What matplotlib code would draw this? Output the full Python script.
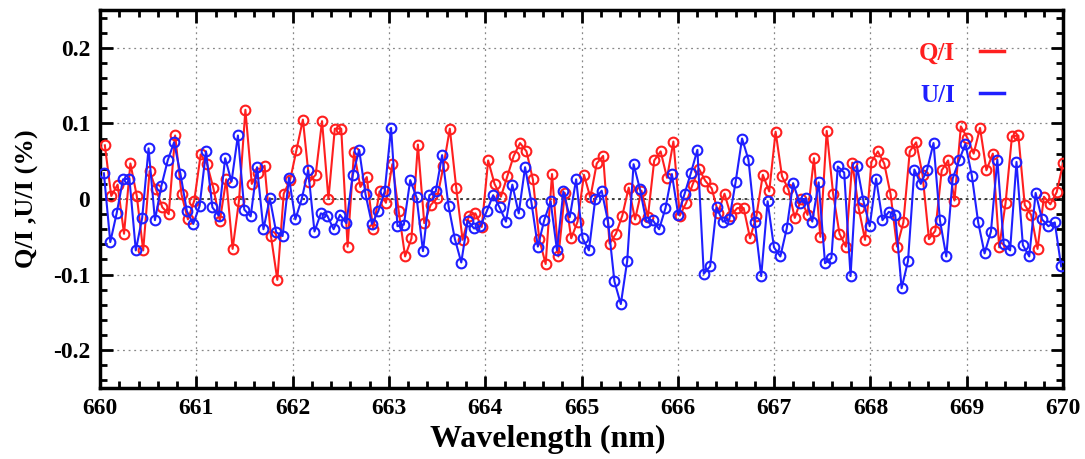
import matplotlib; matplotlib.use("Agg"); import matplotlib.pyplot as plt
import numpy as np
from matplotlib.lines import Line2D
from matplotlib.ticker import MultipleLocator

# ═══════ Data ═══════
wl_q = np.linspace(660.05, 670.0, 151)
wl_u = np.linspace(660.04, 669.98, 151)

q_over_i = [
    0.071, 0.004, 0.019, -0.046, 0.047, 0.004, -0.068, 0.037, 0.013, -0.011,
    -0.020, 0.084, 0.006, -0.027, -0.002, 0.059, 0.046, 0.014, -0.029, 0.026,
    -0.066, -0.002, 0.118, 0.020, 0.035, 0.044, -0.049, -0.107, 0.007, 0.025,
    0.065, 0.105, 0.023, 0.032, 0.103, 0.000, 0.093, 0.093, -0.063, 0.062,
    0.016, 0.029, -0.040, 0.010, -0.005, 0.046, -0.016, -0.076, -0.052, 0.072,
    -0.032, -0.008, 0.001, 0.043, 0.093, 0.015, -0.054, -0.022, -0.019, -0.037,
    0.051, 0.020, 0.003, 0.030, 0.057, 0.074, 0.063, 0.026, -0.053, -0.086,
    0.033, -0.076, 0.008, -0.052, -0.030, 0.032, 0.002, 0.047, 0.057, -0.059,
    -0.046, -0.022, 0.015, -0.027, 0.011, -0.024, 0.051, 0.063, 0.028, 0.076,
    -0.022, -0.005, 0.019, 0.040, 0.024, 0.014, -0.018, 0.007, -0.022, -0.012,
    -0.012, -0.052, -0.022, 0.032, 0.010, 0.089, 0.030, 0.013, -0.025, 0.000,
    -0.021, 0.054, -0.050, 0.090, 0.007, -0.046, -0.063, 0.048, -0.012, -0.054,
    0.049, 0.063, 0.047, 0.006, -0.063, -0.031, 0.063, 0.075, 0.032, -0.053,
    -0.042, 0.038, 0.051, -0.002, 0.096, 0.081, 0.060, 0.094, 0.038, 0.060,
    -0.064, -0.005, 0.083, 0.084, -0.008, -0.021, -0.066, 0.003, -0.007, 0.009,
    0.047,
]

u_over_i = [
    0.034, -0.057, -0.019, 0.026, 0.027, -0.068, -0.025, 0.067, -0.028, 0.017,
    0.051, 0.075, 0.033, -0.016, -0.033, -0.009, 0.063, -0.011, -0.022, 0.054,
    0.023, 0.084, -0.014, -0.023, 0.042, -0.040, 0.001, -0.044, -0.049, 0.028,
    -0.027, 0.000, 0.038, -0.043, -0.019, -0.022, -0.040, -0.021, -0.032, 0.032,
    0.065, 0.006, -0.033, -0.016, 0.010, 0.094, -0.036, -0.034, 0.025, 0.002,
    -0.069, 0.005, 0.010, 0.058, -0.009, -0.053, -0.084, -0.029, -0.039, -0.036,
    -0.016, 0.005, -0.011, -0.030, 0.019, -0.019, 0.042, -0.005, -0.063, -0.028,
    -0.003, -0.068, 0.010, -0.024, 0.026, -0.052, -0.068, 0.000, 0.011, -0.030,
    -0.109, -0.139, -0.082, 0.046, 0.013, -0.030, -0.028, -0.040, -0.012, 0.033,
    -0.021, 0.007, 0.035, 0.065, -0.099, -0.089, -0.011, -0.030, -0.027, 0.023,
    0.080, 0.052, -0.030, -0.102, -0.003, -0.064, -0.076, -0.039, 0.021, -0.005,
    0.001, -0.030, 0.022, -0.085, -0.078, 0.043, 0.035, -0.102, 0.044, -0.002,
    -0.036, 0.027, -0.028, -0.017, -0.021, -0.118, -0.082, 0.039, 0.020, 0.039,
    0.074, -0.028, -0.076, 0.027, 0.051, 0.073, 0.031, -0.031, -0.072, -0.043,
    0.052, -0.060, -0.068, 0.049, -0.061, -0.076, 0.008, -0.027, -0.036, -0.031,
    -0.089,
]

x_ticks = list(range(660, 671))
y_ticks = [-0.2, -0.1, 0, 0.1, 0.2]
y_ticklabels = ["-0.2", "-0.1", "0", "0.1", "0.2"]

RED, BLUE = "#ff1f1f", "#1f1fff"

plt.rcParams["font.family"] = ["Liberation Serif", "DejaVu Serif"]
plt.rcParams["font.weight"] = "bold"

fig = plt.figure(figsize=(10.85, 4.59), dpi=100)
ax = fig.add_axes([0.0922, 0.1547, 0.8876, 0.8235])

ax.plot(wl_q, q_over_i, color=RED, lw=1.5, marker="o", ms=7, mfc="none", mec=RED, mew=1.5, zorder=3)
ax.plot(wl_u, u_over_i, color=BLUE, lw=1.5, marker="o", ms=7, mfc="none", mec=BLUE, mew=1.5, zorder=4)

ax.set_xlim(660, 670)
ax.set_ylim(-0.25, 0.25)
ax.set_xticks(x_ticks)
ax.set_yticks(y_ticks)
ax.set_yticklabels(y_ticklabels)
ax.xaxis.set_minor_locator(MultipleLocator(0.2))
ax.yaxis.set_minor_locator(MultipleLocator(0.02))
ax.tick_params(which="both", direction="in", top=True, right=True, width=2, labelsize=17)
ax.tick_params(which="major", length=9, pad=7)
ax.tick_params(which="minor", length=5)
for s in ax.spines.values():
    s.set_linewidth(2.5)

ax.grid(True, which="major", color="#888888", ls=(0, (1.5, 3)), lw=0.9)
ax.axhline(0, color="#333333", ls=(0, (1.5, 2)), lw=1.3, zorder=2)

ax.set_xlabel("Wavelength (nm)", fontsize=23, fontweight="bold")
ax.xaxis.set_label_coords(0.465, -0.097)
ax.set_ylabel("Q/I ,U/I (%)", fontsize=19, fontweight="bold", labelpad=10)

handles = [Line2D([], [], color=RED, lw=2.5), Line2D([], [], color=BLUE, lw=2.5)]
leg = ax.legend(handles, ["Q/I", "U/I"], loc="upper right", bbox_to_anchor=(0.962, 0.975),
                frameon=False, markerfirst=False, handlelength=0.95, handletextpad=1.0,
                labelspacing=0.75, labelcolor=[RED, BLUE], prop={"size": 18, "weight": "bold"})

plt.savefig("out.png", dpi=100)
